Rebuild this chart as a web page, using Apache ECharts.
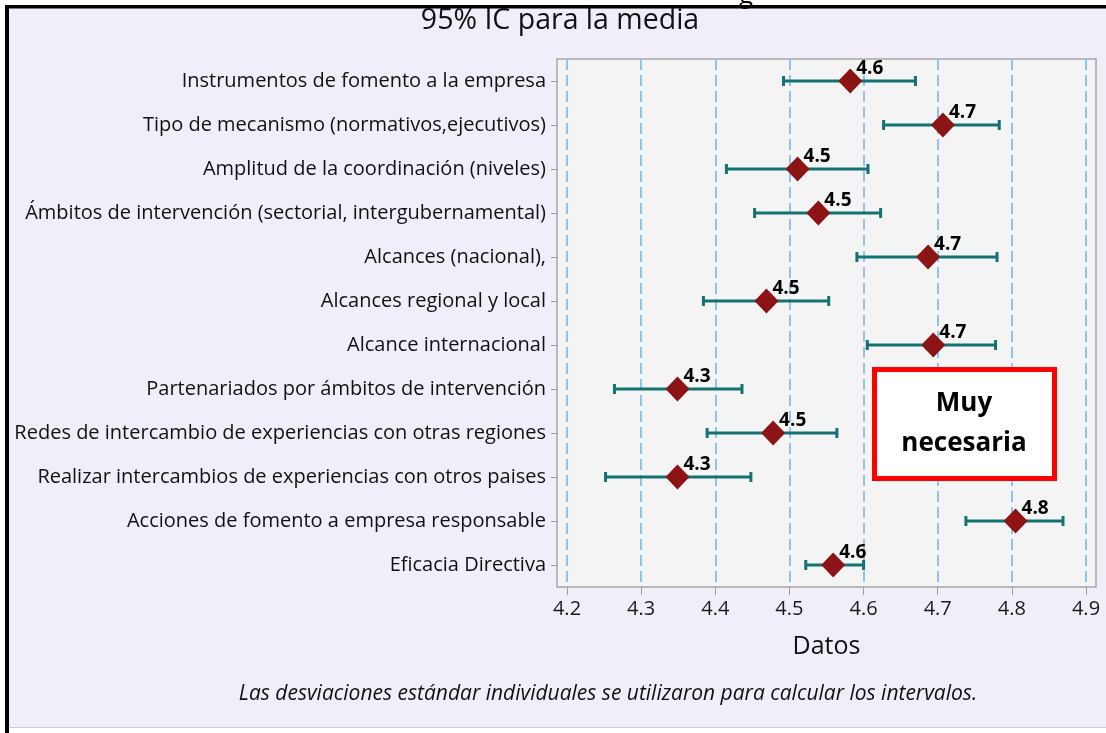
<!DOCTYPE html>
<html>
<head>
<meta charset="utf-8">
<script src="https://cdn.jsdelivr.net/npm/echarts@6.0.0/dist/echarts.min.js"></script>
<style>
  html, body { margin: 0; padding: 0; background: #fff; }
  #chart { width: 1106px; height: 733px; }
</style>
</head>
<body>
<div id="chart"></div>
<script>
// filas de arriba hacia abajo
const categories = [
  'Instrumentos de fomento a la empresa',
  'Tipo de mecanismo (normativos,ejecutivos)',
  'Amplitud de la coordinación (niveles)',
  'Ámbitos de intervención (sectorial, intergubernamental)',
  'Alcances (nacional),',
  'Alcances regional y local',
  'Alcance internacional',
  'Partenariados por ámbitos de intervención',
  'Redes de intercambio de experiencias con otras regiones',
  'Realizar intercambios de experiencias con otros paises',
  'Acciones de fomento a empresa responsable',
  'Eficacia Directiva'
];
const means = [4.582, 4.707, 4.511, 4.539, 4.687, 4.469, 4.694, 4.349, 4.478, 4.349, 4.805, 4.559];
const lower = [4.492, 4.627, 4.415, 4.453, 4.591, 4.384, 4.605, 4.264, 4.389, 4.252, 4.738, 4.522];
const upper = [4.670, 4.783, 4.606, 4.623, 4.780, 4.553, 4.778, 4.436, 4.564, 4.448, 4.869, 4.600];
const xMin = 4.2;
const xMax = 4.9;
const xStep = 0.1;

const font = 'Open Sans';
const barColor = '#137373';
const diamondColor = '#8c1414';

const chart = echarts.init(document.getElementById('chart'));

chart.setOption({
  animation: false,
  backgroundColor: '#f1eef9',
  textStyle: { fontFamily: font },
  grid: [
    // caja del area de trazado
    {
      left: 557, right: 10, top: 59, bottom: 146,
      show: true, backgroundColor: '#f4f4f4',
      borderColor: '#a6a6a6', borderWidth: 1.5,
      containLabel: false, outerBoundsMode: 'none'
    },
    // datos
    {
      left: 567, right: 20, top: 59, bottom: 146,
      containLabel: false, outerBoundsMode: 'none'
    }
  ],
  xAxis: [
    { gridIndex: 0, type: 'value', show: false },
    {
      gridIndex: 1, type: 'value', min: xMin, max: xMax, interval: xStep,
      axisLine: { show: false },
      axisTick: { show: true, length: 8, lineStyle: { color: '#9a9a9a', width: 1 } },
      axisLabel: {
        fontSize: 20, color: '#1a1a1a', margin: 12, fontFamily: font,
        formatter: v => v.toFixed(1)
      },
      splitLine: { show: true, lineStyle: { color: '#8cc4f8', width: 2, type: [11, 5] } },
      name: 'Datos', nameLocation: 'middle', nameGap: 47,
      nameTextStyle: { fontSize: 25, color: '#111', fontFamily: font }
    }
  ],
  yAxis: [
    { gridIndex: 0, type: 'value', show: false },
    {
      gridIndex: 1, type: 'category', data: categories, inverse: true, offset: 10,
      axisLine: { show: false },
      axisTick: { show: true, alignWithLabel: true, length: 6, lineStyle: { color: '#9a9a9a' } },
      axisLabel: { fontSize: 20, color: '#111', margin: 11, fontFamily: font },
      splitLine: { show: false }
    }
  ],
  series: [
    {
      type: 'custom',
      xAxisIndex: 1, yAxisIndex: 1,
      data: categories.map((c, i) => [i, lower[i], upper[i]]),
      encode: { x: [1, 2], y: 0 },
      renderItem: function (params, api) {
        const i = api.value(0);
        const a = api.coord([api.value(1), i]);
        const b = api.coord([api.value(2), i]);
        const h = 5;
        const st = { stroke: barColor, lineWidth: 3 };
        return {
          type: 'group',
          children: [
            { type: 'line', shape: { x1: a[0], y1: a[1], x2: b[0], y2: b[1] }, style: st },
            { type: 'line', shape: { x1: a[0], y1: a[1] - h, x2: a[0], y2: a[1] + h }, style: st },
            { type: 'line', shape: { x1: b[0], y1: b[1] - h, x2: b[0], y2: b[1] + h }, style: st }
          ]
        };
      },
      z: 3
    },
    {
      type: 'scatter',
      xAxisIndex: 1, yAxisIndex: 1,
      data: means.map((m, i) => [m, i]),
      symbol: 'diamond',
      symbolSize: [24, 25],
      itemStyle: { color: diamondColor, opacity: 1 },
      label: {
        show: true,
        position: [18, 0],
        align: 'left',
        verticalAlign: 'middle',
        fontSize: 19,
        fontWeight: 'bold',
        color: '#000',
        fontFamily: font,
        formatter: p => p.value[0].toFixed(1)
      },
      z: 4
    }
  ],
  graphic: [
    // bordes del marco
    { type: 'rect', shape: { x: 0, y: 0, width: 1106, height: 5 }, style: { fill: '#fff' }, silent: true },
    { type: 'rect', shape: { x: 0, y: 0, width: 5, height: 733 }, style: { fill: '#fff' }, silent: true },
    { type: 'rect', shape: { x: 0, y: 728, width: 1106, height: 5 }, style: { fill: '#fff' }, silent: true },
    { type: 'rect', shape: { x: 5, y: 727, width: 1101, height: 1 }, style: { fill: '#cfcfcf' }, silent: true },
    { type: 'rect', shape: { x: 5, y: 5, width: 1101, height: 3.5 }, style: { fill: '#000' }, silent: true },
    { type: 'rect', shape: { x: 5, y: 5, width: 4, height: 728 }, style: { fill: '#000' }, silent: true },
    // resto del titulo superior recortado
    {
      type: 'text', x: 746, y: 9,
      style: { text: 'g', fontSize: 26, fontFamily: font, fill: '#000', align: 'center', verticalAlign: 'bottom' },
      silent: true
    },
    {
      type: 'text', x: 560, y: 21,
      style: { text: '95% IC para la media', fontSize: 28.5, fontFamily: font, fill: '#111', align: 'center', verticalAlign: 'middle' },
      silent: true
    },
    {
      type: 'text', x: 608, y: 694,
      style: {
        text: 'Las desviaciones estándar individuales se utilizaron para calcular los intervalos.',
        fontSize: 21, fontStyle: 'italic', fontFamily: font, fill: '#111', align: 'center', verticalAlign: 'middle'
      },
      silent: true
    },
    // recuadro rojo
    {
      type: 'rect', z: 10,
      shape: { x: 874.5, y: 369.5, width: 180, height: 109 },
      style: { fill: '#fff', stroke: '#ff0000', lineWidth: 5 },
      silent: true
    },
    {
      type: 'text', z: 11, x: 964, y: 404,
      style: { text: 'Muy', fontSize: 26, fontWeight: 'bold', fontFamily: font, fill: '#000', align: 'center', verticalAlign: 'middle' },
      silent: true
    },
    {
      type: 'text', z: 11, x: 964, y: 444,
      style: { text: 'necesaria', fontSize: 26, fontWeight: 'bold', fontFamily: font, fill: '#000', align: 'center', verticalAlign: 'middle' },
      silent: true
    }
  ]
});
</script>
</body>
</html>
